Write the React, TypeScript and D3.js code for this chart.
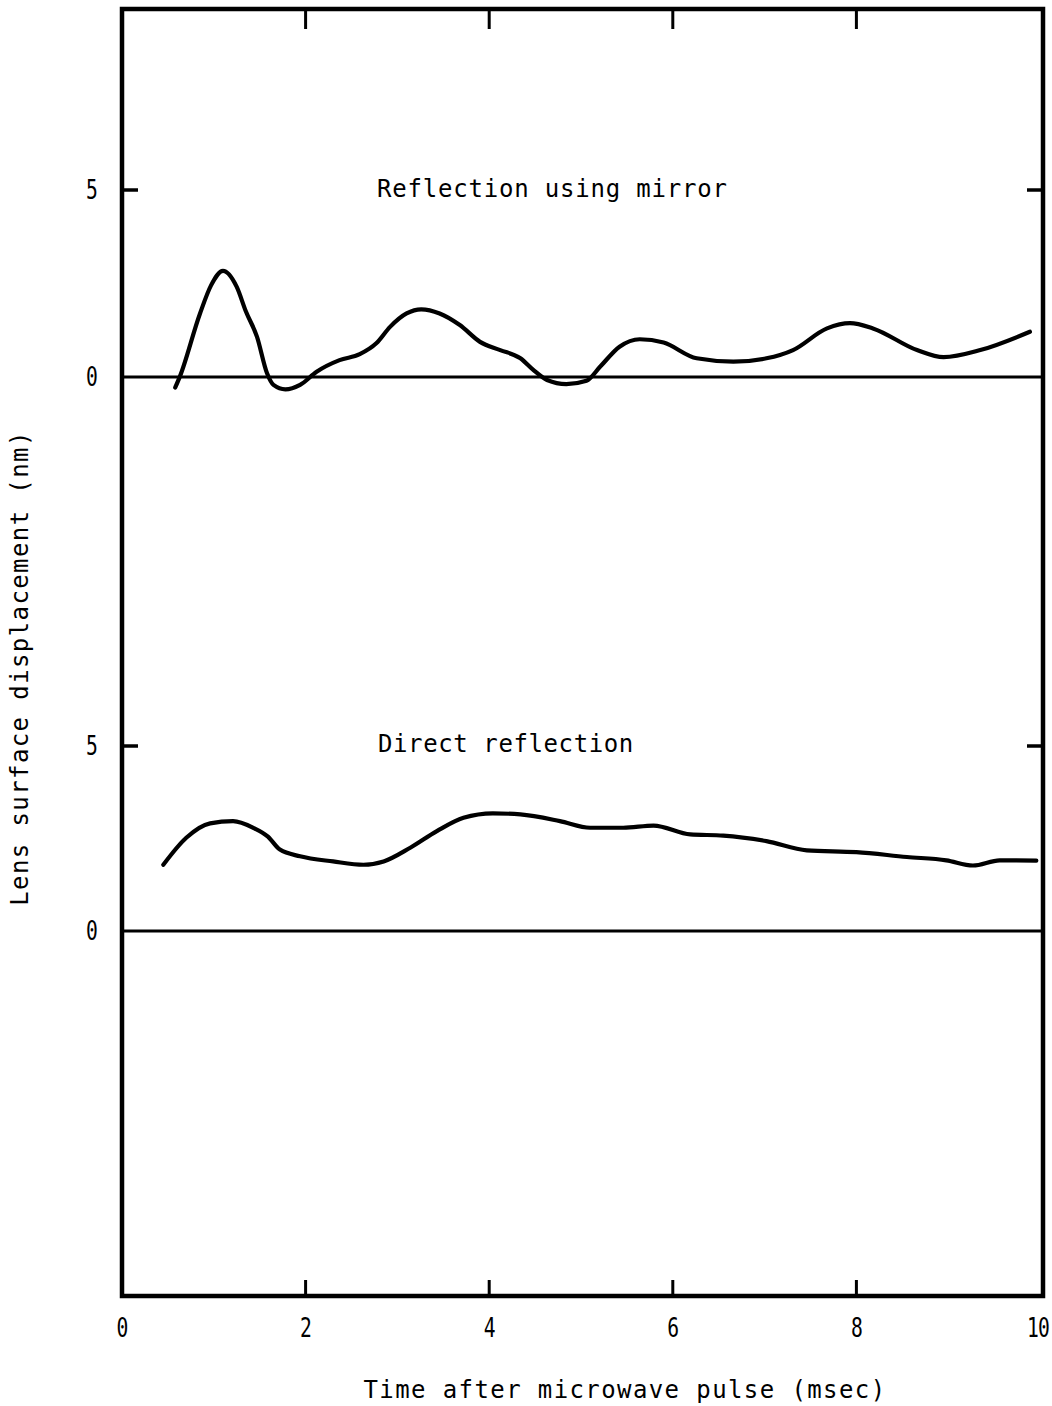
import React from "react";
import * as d3 from "d3";

const xTicks = [0, 2, 4, 6, 8, 10];
const yTickLabels = ["0", "5"];

const mirrorT = [0.58, 0.63, 0.85, 0.97, 1.10, 1.25, 1.35, 1.47, 1.58, 1.65, 1.78, 1.94, 2.12, 2.37, 2.59, 2.77, 2.92, 3.10, 3.26, 3.46, 3.68, 3.90, 4.12, 4.34, 4.48, 4.63, 4.84, 5.06, 5.21, 5.42, 5.64, 5.90, 6.26, 6.66, 7.02, 7.31, 7.68, 7.93, 8.18, 8.66, 8.95, 9.35, 9.89];
const mirrorV = [-0.28, 0.01, 1.70, 2.45, 2.84, 2.41, 1.75, 1.08, 0.10, -0.21, -0.33, -0.21, 0.14, 0.45, 0.61, 0.90, 1.34, 1.70, 1.81, 1.70, 1.39, 0.94, 0.72, 0.50, 0.19, -0.08, -0.19, -0.10, 0.28, 0.81, 1.01, 0.92, 0.50, 0.41, 0.50, 0.72, 1.30, 1.44, 1.30, 0.72, 0.53, 0.72, 1.21];

const directT = [0.45, 0.70, 0.96, 1.21, 1.43, 1.59, 1.72, 1.94, 2.30, 2.63, 2.85, 3.14, 3.43, 3.72, 4.04, 4.34, 4.77, 5.10, 5.46, 5.79, 6.19, 6.55, 7.02, 7.46, 8.00, 8.55, 8.98, 9.27, 9.56, 9.96];
const directV = [1.79, 2.52, 2.91, 2.97, 2.79, 2.55, 2.20, 2.02, 1.88, 1.79, 1.88, 2.25, 2.70, 3.06, 3.18, 3.15, 2.97, 2.79, 2.79, 2.85, 2.61, 2.58, 2.43, 2.18, 2.13, 2.00, 1.91, 1.77, 1.91, 1.90];

const labelTop = "Reflection using mirror";
const labelBottom = "Direct reflection";
const xTitle = "Time after microwave pulse (msec)";
const yTitle = "Lens surface displacement (nm)";

const FONT = "'DejaVu Sans Mono', 'Liberation Mono', monospace";

export default function App() {
  const W = 1052, H = 1406;
  const left = 122, right = 1043, top = 9, bottom = 1296;
  const x = d3.scaleLinear().domain([0, 10]).range([122, 1040]);
  const yTop = d3.scaleLinear().domain([0, 5]).range([377, 190]);
  const yBot = d3.scaleLinear().domain([0, 5]).range([931, 746]);

  const line = (ys: d3.ScaleLinear<number, number>) =>
    d3.line<[number, number]>()
      .x((d) => x(d[0]))
      .y((d) => ys(d[1]))
      .curve(d3.curveMonotoneX);

  const mirrorPts = mirrorT.map((t, i) => [t, mirrorV[i]] as [number, number]);
  const directPts = directT.map((t, i) => [t, directV[i]] as [number, number]);

  const tickLen = 16;
  const inner = xTicks.filter((t) => t !== 0 && t !== 10);

  return (
    <svg width={W} height={H} style={{ position: "absolute", left: 0, top: 0, background: "#fff" }} fontFamily={FONT}>
      <rect x={0} y={0} width={W} height={H} fill="#fff" />
      {/* frame */}
      <rect x={left} y={top} width={right - left} height={bottom - top} fill="none" stroke="#000" strokeWidth={4.5} />
      {/* top & bottom ticks */}
      {inner.map((t) => (
        <g key={t}>
          <line x1={x(t)} x2={x(t)} y1={top} y2={top + tickLen + 4} stroke="#000" strokeWidth={3} />
          <line x1={x(t)} x2={x(t)} y1={bottom} y2={bottom - tickLen} stroke="#000" strokeWidth={3} />
        </g>
      ))}
      {/* x tick labels */}
      {xTicks.map((t) => (
        <text key={t} transform={`translate(${x(t) - (t === 10 ? 2 : 0)},1337) scale(0.82,1.12)`} textAnchor="middle" fontSize={24} letterSpacing={-1} fill="#000">{t}</text>
      ))}
      {/* y ticks at 5 */}
      {[yTop, yBot].map((ys, i) => (
        <g key={i}>
          <line x1={left} x2={left + tickLen} y1={ys(5)} y2={ys(5)} stroke="#000" strokeWidth={3.5} />
          <line x1={right} x2={right - tickLen} y1={ys(5)} y2={ys(5)} stroke="#000" strokeWidth={3.5} />
          <line x1={left} x2={right} y1={ys(0)} y2={ys(0)} stroke="#000" strokeWidth={2.8} />
          {yTickLabels.map((l) => (
            <text key={l} transform={`translate(92,${ys(+l) + 9}) scale(0.82,1.12)`} textAnchor="middle" fontSize={24} fill="#000">{l}</text>
          ))}
        </g>
      ))}
      {/* curves */}
      <path d={line(yTop)(mirrorPts) || ""} fill="none" stroke="#000" strokeWidth={4.2} strokeLinejoin="round" strokeLinecap="round" />
      <path d={line(yBot)(directPts) || ""} fill="none" stroke="#000" strokeWidth={4.2} strokeLinejoin="round" strokeLinecap="round" />
      {/* panel labels */}
      <text x={377} y={197} fontSize={24} letterSpacing={0.8} fill="#000">{labelTop}</text>
      <text x={378} y={752} fontSize={24} letterSpacing={0.6} fill="#000">{labelBottom}</text>
      {/* axis titles */}
      <text x={625} y={1398} textAnchor="middle" fontSize={24} letterSpacing={1.4} fill="#000">{xTitle}</text>
      <text transform="translate(28,668) rotate(-90)" textAnchor="middle" fontSize={24} letterSpacing={1.4} fill="#000">{yTitle}</text>
    </svg>
  );
}
